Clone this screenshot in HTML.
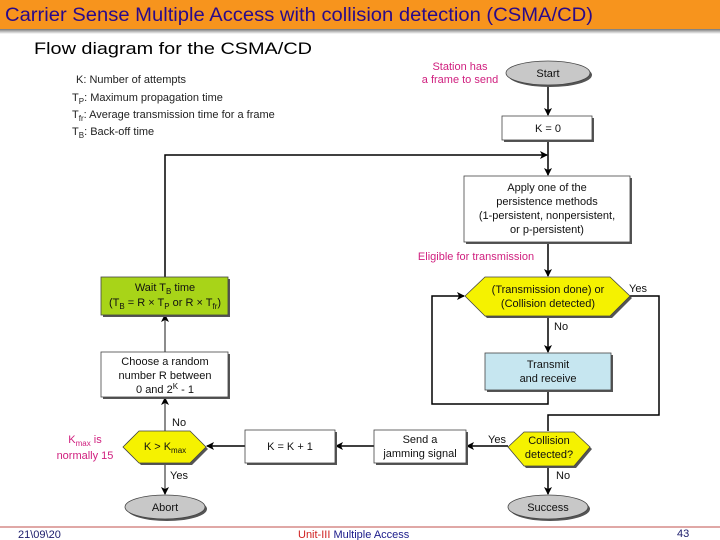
<!DOCTYPE html>
<html><head><meta charset="utf-8"><style>
html,body{margin:0;padding:0;background:#fff}
svg{display:block}
text{font-family:"Liberation Sans",sans-serif}
</style></head><body>
<svg width="720" height="540" viewBox="0 0 720 540" xmlns="http://www.w3.org/2000/svg">
<defs>
<linearGradient id="hg" x1="0" y1="0" x2="0" y2="1"><stop offset="0" stop-color="#777"/><stop offset="1" stop-color="#fff"/></linearGradient>
<marker id="ar" markerWidth="8" markerHeight="8" refX="7" refY="4" orient="auto" markerUnits="userSpaceOnUse"><path d="M0,0 L8,4 L0,8 L2,4z" fill="#000"/></marker>
</defs>
<rect x="0" y="0" width="720" height="29" fill="#f7941d"/>
<rect x="0" y="29" width="720" height="5" fill="url(#hg)"/>
<text x="5" y="21" font-size="19" fill="#2a0a8a" textLength="588" lengthAdjust="spacingAndGlyphs">Carrier Sense Multiple Access with collision detection  (CSMA/CD)</text>
<text x="34" y="54" font-size="17" fill="#000" textLength="278" lengthAdjust="spacingAndGlyphs">Flow diagram for the CSMA/CD</text>

<g font-size="11" fill="#222">
<text x="76" y="83">K: Number of attempts</text>
<text x="72" y="101">T<tspan font-size="8" dy="3">P</tspan><tspan dy="-3">: Maximum propagation time</tspan></text>
<text x="72" y="118">T<tspan font-size="8" dy="3">fr</tspan><tspan dy="-3">: Average transmission time for a frame</tspan></text>
<text x="72" y="135">T<tspan font-size="8" dy="3">B</tspan><tspan dy="-3">: Back-off time</tspan></text>
</g>
<g font-size="11" fill="#d0207f">
<text x="460" y="70" text-anchor="middle">Station has</text>
<text x="460" y="83" text-anchor="middle">a frame to send</text>
<text x="476" y="260" text-anchor="middle">Eligible for transmission</text>
<text x="85" y="443" text-anchor="middle">K<tspan font-size="8" dy="3">max</tspan><tspan dy="-3"> is</tspan></text>
<text x="85" y="459" text-anchor="middle">normally 15</text>
</g>

<g stroke="#000" stroke-width="1.5" fill="none">
<line x1="548" y1="85" x2="548" y2="115" marker-end="url(#ar)"/>
<line x1="548" y1="140" x2="548" y2="175" marker-end="url(#ar)"/>
<polyline points="165,277 165,155 547,155" marker-end="url(#ar)"/>
<line x1="548" y1="242" x2="548" y2="276" marker-end="url(#ar)"/>
<line x1="548" y1="316" x2="548" y2="352" marker-end="url(#ar)"/>
<polyline points="548,389 548,404 432,404 432,296 464,296" marker-end="url(#ar)"/>
<polyline points="630,296 659,296 659,415 548,415 548,431"/>
<line x1="548" y1="466" x2="548" y2="494" marker-end="url(#ar)"/>
<line x1="508" y1="446" x2="467" y2="446" marker-end="url(#ar)"/>
<line x1="374" y1="446" x2="336" y2="446" marker-end="url(#ar)"/>
<line x1="245" y1="446" x2="207" y2="446" marker-end="url(#ar)"/>
<line x1="165" y1="431" x2="165" y2="398" stroke="#666" marker-end="url(#ar)"/>
<line x1="165" y1="352" x2="165" y2="315" stroke="#666" marker-end="url(#ar)"/>
<line x1="165" y1="463" x2="165" y2="494" stroke="#666" marker-end="url(#ar)"/>
</g>

<!-- shadows -->
<g fill="#555">
<ellipse cx="550" cy="75" rx="42" ry="12"/>
<rect x="504" y="118" width="90" height="24"/>
<rect x="466" y="178" width="166" height="66"/>
<polygon points="467,298 487,279 612,279 632,298 612,318 487,318"/>
<rect x="487" y="355" width="126" height="37"/>
<polygon points="510,449 526,434 576,434 592,449 576,468 526,468"/>
<ellipse cx="550" cy="509" rx="40" ry="12"/>
<rect x="376" y="432" width="92" height="33"/>
<rect x="247" y="432" width="90" height="33"/>
<polygon points="125,449 141,433 192,433 208,449 192,465 141,465"/>
<rect x="103" y="279" width="127" height="38"/>
<rect x="103" y="354" width="127" height="45"/>
<ellipse cx="167" cy="509" rx="40" ry="12"/>
</g>
<g stroke="#444" stroke-width="0.8">
<ellipse cx="548" cy="73" rx="42" ry="12" fill="#c8c8c8"/>
<rect x="502" y="116" width="90" height="24" fill="#fff"/>
<rect x="464" y="176" width="166" height="66" fill="#fff"/>
<polygon points="465,296 485,277 610,277 630,296 610,316 485,316" fill="#f5f200"/>
<rect x="485" y="353" width="126" height="37" fill="#c6e6f0"/>
<polygon points="508,447 524,432 574,432 590,447 574,466 524,466" fill="#f5f200"/>
<ellipse cx="548" cy="507" rx="40" ry="12" fill="#c8c8c8"/>
<rect x="374" y="430" width="92" height="33" fill="#fff"/>
<rect x="245" y="430" width="90" height="33" fill="#fff"/>
<polygon points="123,447 139,431 190,431 206,447 190,463 139,463" fill="#f5f200"/>
<rect x="101" y="277" width="127" height="38" fill="#a8d418"/>
<rect x="101" y="352" width="127" height="45" fill="#fff"/>
<ellipse cx="165" cy="507" rx="40" ry="12" fill="#c8c8c8"/>
</g>

<g font-size="11" fill="#111" text-anchor="middle">
<text x="548" y="77">Start</text>
<text x="548" y="132">K = 0</text>
<text x="547" y="191">Apply one of the</text>
<text x="547" y="205">persistence methods</text>
<text x="547" y="219">(1-persistent, nonpersistent,</text>
<text x="547" y="233">or p-persistent)</text>
<text x="548" y="293">(Transmission done) or</text>
<text x="548" y="307">(Collision detected)</text>
<text x="548" y="368">Transmit</text>
<text x="548" y="382">and receive</text>
<text x="549" y="444">Collision</text>
<text x="549" y="458">detected?</text>
<text x="548" y="511">Success</text>
<text x="420" y="443">Send a</text>
<text x="420" y="457">jamming signal</text>
<text x="290" y="450">K = K + 1</text>
<text x="165" y="450">K &gt; K<tspan font-size="8" dy="3">max</tspan></text>
<text x="165" y="291">Wait T<tspan font-size="8" dy="3">B</tspan><tspan dy="-3"> time</tspan></text>
<text x="165" y="306">(T<tspan font-size="8" dy="3">B</tspan><tspan dy="-3"> = R × T</tspan><tspan font-size="8" dy="3">P</tspan><tspan dy="-3"> or R × T</tspan><tspan font-size="8" dy="3">fr</tspan><tspan dy="-3">)</tspan></text>
<text x="165" y="365">Choose a random</text>
<text x="165" y="379">number R between</text>
<text x="165" y="393">0 and 2<tspan font-size="8" dy="-4">K</tspan><tspan dy="4"> - 1</tspan></text>
<text x="165" y="511">Abort</text>
</g>
<g font-size="11" fill="#111">
<text x="629" y="292">Yes</text>
<text x="554" y="330">No</text>
<text x="488" y="443">Yes</text>
<text x="556" y="479">No</text>
<text x="172" y="426">No</text>
<text x="170" y="479">Yes</text>
</g>

<line x1="0" y1="527" x2="720" y2="527" stroke="#c0504d" stroke-width="1"/>
<text x="18" y="538" font-size="11" fill="#1a1a6a">21\09\20</text>
<text x="298" y="538" font-size="11" fill="#1a1a8a"><tspan fill="#d02020">Unit-III</tspan> Multiple Access</text>
<text x="677" y="537" font-size="11" fill="#1a1a6a">43</text>
</svg>
</body></html>
